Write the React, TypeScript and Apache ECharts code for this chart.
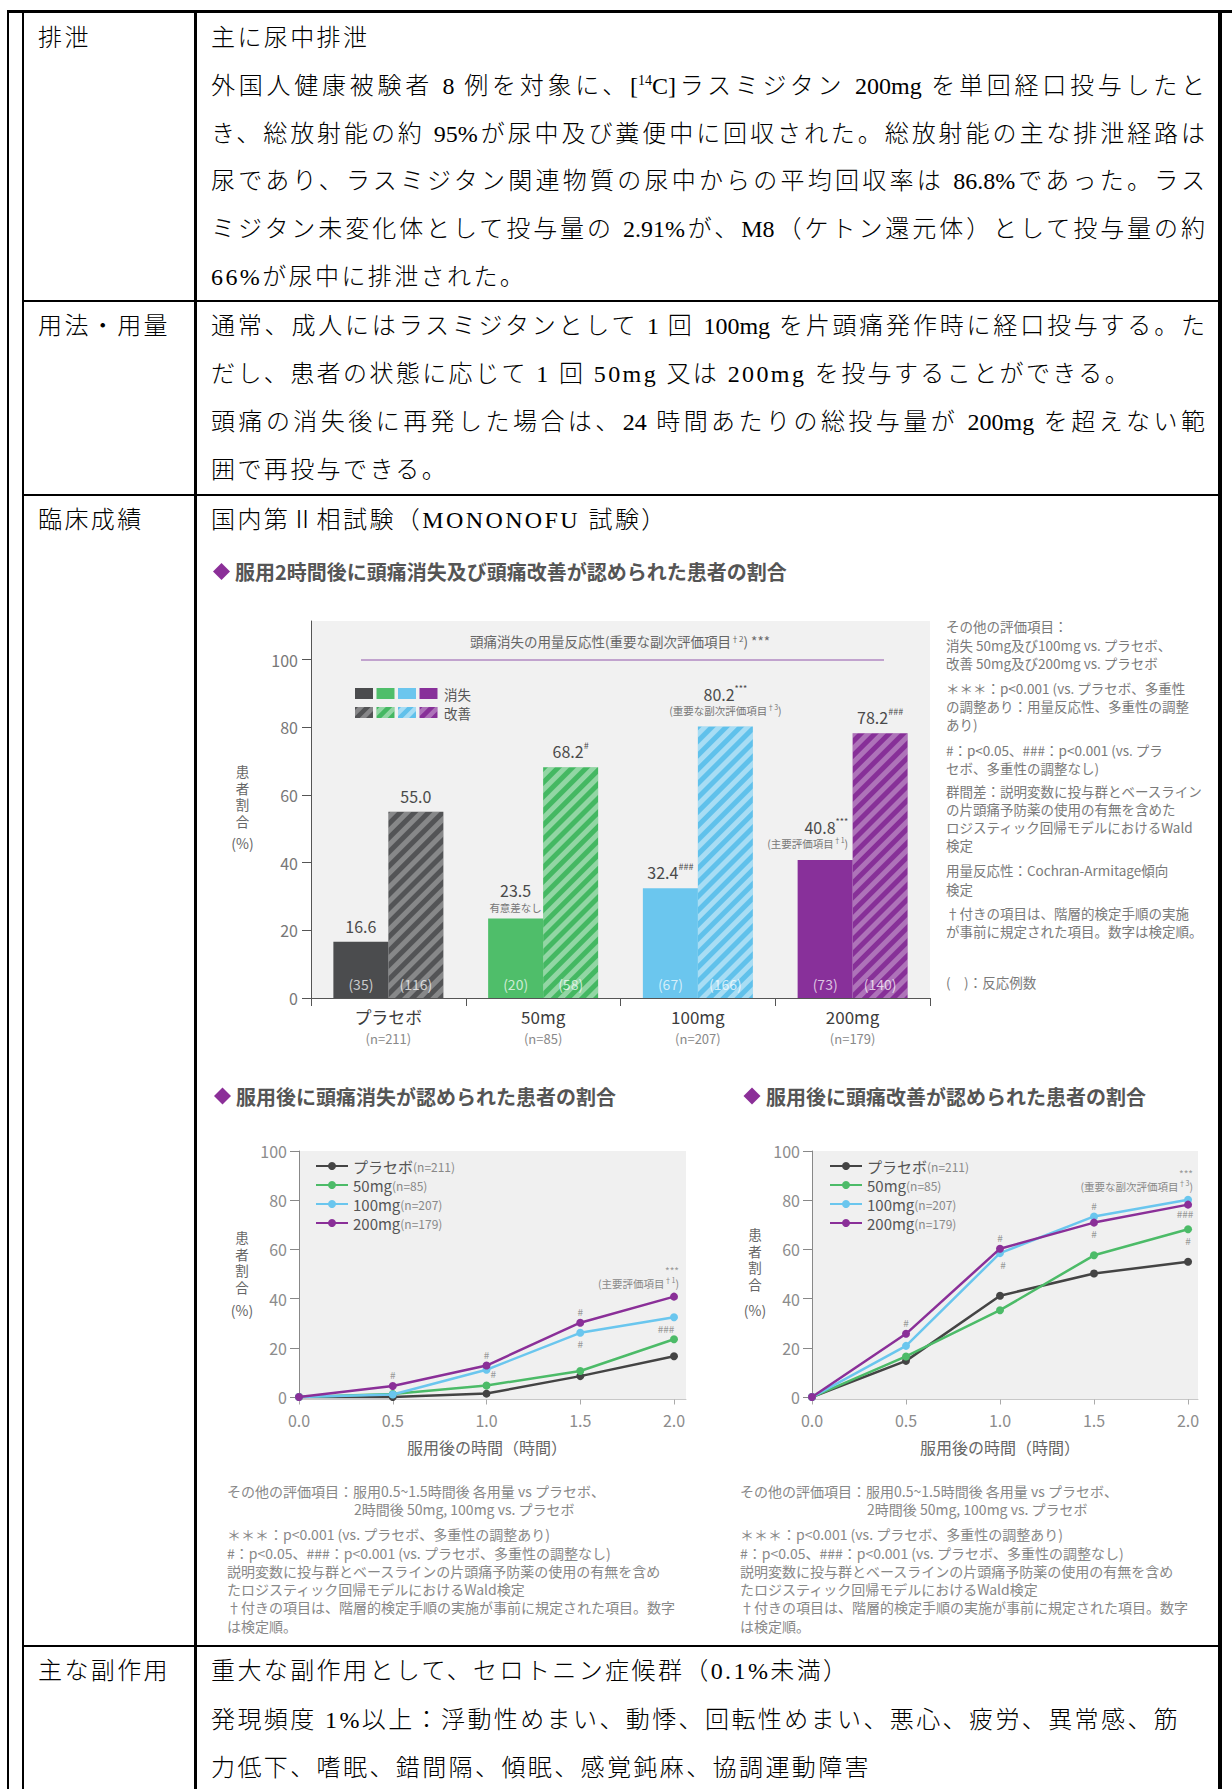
import React, { useEffect, useRef } from 'react';
import * as echarts from 'echarts';

// ---------------- data ----------------
const barCategories = ['プラセボ', '50mg', '100mg', '200mg'];
const barGroupN = ['(n=211)', '(n=85)', '(n=207)', '(n=179)'];
const freedom2h = [16.6, 23.5, 32.4, 40.8];
const relief2h = [55.0, 68.2, 80.2, 78.2];
const freedom2hCount = [35, 20, 67, 73];
const relief2hCount = [116, 58, 166, 140];
const freedom2hSig = ['', '', '###', '***'];
const relief2hSig = ['', '#', '***', '###'];
const freedom2hNote = ['', '有意差なし', '', '(主要評価項目'];
const freedom2hNoteSup = ['', '', '', '†1'];
const relief2hNote = ['', '', '(重要な副次評価項目', ''];
const relief2hNoteSup = ['', '', '†3', ''];
const pctTicks = [0, 20, 40, 60, 80, 100];
const hourTicks = [0, 0.5, 1.0, 1.5, 2.0];
const timePoints = [0, 0.5, 1.0, 1.5, 2.0];
const doseGroups = ['プラセボ', '50mg', '100mg', '200mg'];
const doseN = ['(n=211)', '(n=85)', '(n=207)', '(n=179)'];
const freedomPlacebo = [0, 0, 1.4, 8.5, 16.6];
const freedom50 = [0, 1.2, 4.7, 10.6, 23.5];
const freedom100 = [0, 1.0, 11.1, 26.1, 32.4];
const freedom200 = [0, 4.5, 12.8, 30.2, 40.8];
const reliefPlacebo = [0, 14.7, 41.2, 50.2, 55.0];
const relief50 = [0, 16.5, 35.3, 57.6, 68.2];
const relief100 = [0, 20.8, 58.5, 73.4, 80.2];
const relief200 = [0, 25.7, 60.3, 70.9, 78.2];

// significance marks on line charts: series index, point index, text
const freedomMarks = [
  { s: 3, i: 1, t: '#', pos: 'top' },
  { s: 3, i: 2, t: '#', pos: 'top' },
  { s: 2, i: 2, t: '#', pos: 'right', off: [0, 4], dist: 0 },
  { s: 3, i: 3, t: '#', pos: 'top' },
  { s: 2, i: 3, t: '#', pos: 'bottom' },
  { s: 1, i: 4, t: '###', pos: 'top', off: [-8, 0] },
  { s: 3, i: 4, t: '{mk|***}\n{nt|(主要評価項目}{ns|†1}{nt|)}', pos: 'top', align: 'right', off: [5, 0] },
];
const reliefMarks = [
  { s: 3, i: 1, t: '#', pos: 'top' },
  { s: 3, i: 2, t: '#', pos: 'top' },
  { s: 2, i: 2, t: '#', pos: 'bottom', off: [3, 0] },
  { s: 2, i: 3, t: '#', pos: 'top' },
  { s: 3, i: 3, t: '#', pos: 'bottom' },
  { s: 2, i: 4, t: '{mk|***}\n{nt|(重要な副次評価項目}{ns|†3}{nt|)}', pos: 'top', align: 'right', off: [5, 0] },
  { s: 3, i: 4, t: '###', pos: 'bottom', off: [-3, 0], dist: 0 },
  { s: 1, i: 4, t: '#', pos: 'bottom' },
];

// ---------------- styles ----------------
const FONT = "'Noto Sans CJK JP', 'Noto Sans', sans-serif";
const SERIF = "'Liberation Serif', 'Noto Sans CJK JP', serif";
const solidColors = ['#4b4c4e', '#4fbe6a', '#6bc6ee', '#88309a'];
const hatchColors = ['#535456', '#44b862', '#60c1eb', '#873098'];
const stripeColors = ['rgba(255,255,255,0.3)', 'rgba(255,255,255,0.42)', 'rgba(255,255,255,0.45)', 'rgba(255,255,255,0.32)'];
const lineColors = ['#444444', '#4cbb68', '#6ac6ee', '#8a2f98'];

function clip(poly: number[][], f: (p: number[]) => number) {
  const out: number[][] = [];
  const n = poly.length;
  for (let i = 0; i < n; i++) {
    const cur = poly[i];
    const prev = poly[(i + n - 1) % n];
    const fc = f(cur);
    const fp = f(prev);
    const inter = () => {
      const t = fp / (fp - fc);
      return [prev[0] + t * (cur[0] - prev[0]), prev[1] + t * (cur[1] - prev[1])];
    };
    if (fc >= 0) {
      if (fp < 0) out.push(inter());
      out.push(cur);
    } else if (fp >= 0) {
      out.push(inter());
    }
  }
  return out;
}

function hatchSquare(x: number, y: number, w: number, h: number, base: string, stripe: string) {
  const out: any[] = [{ type: 'rect', silent: true, shape: { x, y, width: w, height: h }, style: { fill: base } }];
  const P = 12.7;
  const rect = [[x, y], [x + w, y], [x + w, y + h], [x, y + h]];
  for (let k = -1; k * P < w + h; k++) {
    const a = k * P + 3;
    const b = a + P / 2;
    let poly = clip(rect, (p) => (p[0] - x) + (p[1] - y) - a);
    poly = clip(poly, (p) => b - ((p[0] - x) + (p[1] - y)));
    if (poly.length >= 3) out.push({ type: 'polygon', silent: true, shape: { points: poly }, style: { fill: stripe } });
  }
  return out;
}

function buildOption() {
  const G: any[] = [];
  const T = (x: number, y: number, text: string, o: any = {}) =>
    G.push({
      type: 'text', x, y, silent: true, z: 10,
      style: {
        text, fill: o.fill || '#777', fontSize: o.size || 14, fontFamily: FONT,
        fontWeight: o.weight || 'normal', align: o.align || 'left', verticalAlign: o.va || 'middle',
        lineHeight: o.lh, rich: o.rich,
      },
    });
  const diamond = (cx: number, cy: number, r: number) =>
    G.push({ type: 'polygon', silent: true, shape: { points: [[cx, cy - r], [cx + r, cy], [cx, cy + r], [cx - r, cy]] }, style: { fill: '#8b2f98' } });
  const vName = (x: number, y0: number, pctY: number) => {
    ['患', '者', '割', '合'].forEach((c, k) => T(x, y0 + k * 16.6, c, { size: 13.5, fill: '#666', align: 'center' }));
    T(x, pctY, '(%)', { size: 14, fill: '#666', align: 'center' });
  };

  // titles
  diamond(221.5, 571.5, 8.5);
  T(235, 571.5, '服用2時間後に頭痛消失及び頭痛改善が認められた患者の割合', { size: 20, weight: 'bold', fill: '#555' });
  diamond(222.5, 1096, 8.5);
  T(236, 1096, '服用後に頭痛消失が認められた患者の割合', { size: 20, weight: 'bold', fill: '#555' });
  diamond(752, 1096, 8.5);
  T(766, 1096, '服用後に頭痛改善が認められた患者の割合', { size: 20, weight: 'bold', fill: '#555' });

  // bar chart decorations
  G.push({ type: 'line', silent: true, shape: { x1: 361, y1: 660, x2: 884, y2: 660 }, style: { stroke: '#b088c2', lineWidth: 1.5 } });
  T(620, 641, '頭痛消失の用量反応性(重要な副次評価項目{ns|†2}) ***', {
    size: 13.5, fill: '#666', align: 'center',
    rich: { ns: { fontSize: 8, fill: '#666', verticalAlign: 'top', fontFamily: FONT } },
  });
  const sqX = [355, 376.5, 398, 419.5];
  sqX.forEach((x, i) => {
    G.push({ type: 'rect', silent: true, shape: { x, y: 688, width: 18, height: 11 }, style: { fill: solidColors[i] } });
    hatchSquare(x, 707, 18, 11, hatchColors[i], stripeColors[i]).forEach((e) => G.push(e));
  });
  T(444, 693.5, '消失', { size: 13.5, fill: '#555' });
  T(444, 712.5, '改善', { size: 13.5, fill: '#555' });
  vName(242.5, 771, 843);

  const barNotes: [number, string][] = [
    [626, 'その他の評価項目：'],
    [644.5, '消失 50mg及び100mg vs. プラセボ、'],
    [663, '改善 50mg及び200mg vs. プラセボ'],
    [688, '＊＊＊：p<0.001 (vs. プラセボ、多重性'],
    [706, 'の調整あり：用量反応性、多重性の調整'],
    [724, 'あり)'],
    [749.5, '#：p<0.05、###：p<0.001 (vs. プラ'],
    [768, 'セボ、多重性の調整なし)'],
    [790.5, '群間差：説明変数に投与群とベースライン'],
    [809, 'の片頭痛予防薬の使用の有無を含めた'],
    [827, 'ロジスティック回帰モデルにおけるWald'],
    [845, '検定'],
    [870, '用量反応性：Cochran-Armitage傾向'],
    [888.6, '検定'],
    [912.6, '†付きの項目は、階層的検定手順の実施'],
    [931, 'が事前に規定された項目。数字は検定順。'],
    [982, '(　)：反応例数'],
  ];
  barNotes.forEach(([y, t]) => T(946, y, t, { size: 13.5, fill: '#7a7a7a' }));

  // line chart decorations
  vName(242, 1237, 1310);
  vName(755, 1234, 1310);
  T(487, 1447, '服用後の時間（時間）', { size: 16, fill: '#666', align: 'center' });
  T(1000, 1447, '服用後の時間（時間）', { size: 16, fill: '#666', align: 'center' });

  const lineNotes = (x: number, xi: number) => {
    const rows: [number, string, boolean?][] = [
      [1491, 'その他の評価項目：服用0.5~1.5時間後 各用量 vs プラセボ、'],
      [1509, '2時間後 50mg, 100mg vs. プラセボ', true],
      [1534, '＊＊＊：p<0.001 (vs. プラセボ、多重性の調整あり)'],
      [1552.5, '#：p<0.05、###：p<0.001 (vs. プラセボ、多重性の調整なし)'],
      [1571, '説明変数に投与群とベースラインの片頭痛予防薬の使用の有無を含め'],
      [1589, 'たロジスティック回帰モデルにおけるWald検定'],
      [1607, '†付きの項目は、階層的検定手順の実施が事前に規定された項目。数字'],
      [1625.5, 'は検定順。'],
    ];
    rows.forEach(([y, t, ind]) => T(ind ? xi : x, y, t, { size: 14, fill: '#888' }));
  };
  lineNotes(227, 354);
  lineNotes(740, 867);

  // ---- bar series ----
  const barRich: any = {
    num: { fontSize: 16, color: '#4a4a4a', fontFamily: FONT, lineHeight: 20 },
    sig: { fontSize: 9, color: '#4a4a4a', fontFamily: FONT, lineHeight: 20, verticalAlign: 'top' },
    nt: { fontSize: 10.5, color: '#777', fontFamily: FONT, lineHeight: 14 },
    ns: { fontSize: 7, color: '#777', fontFamily: FONT, lineHeight: 14, verticalAlign: 'top' },
    cnt: { fontSize: 14, color: 'rgba(255,255,255,0.72)', fontFamily: FONT },
  };
  const topText = (v: number, sig: string, note: string, sup: string) => {
    let s = `{num|${v.toFixed(1)}}` + (sig ? `{sig|${sig}}` : '');
    if (note) s += `\n{nt|${note}}` + (sup ? `{ns|${sup}}{nt|)}` : '');
    return s;
  };
  const topDist = (note: string, sup: string) => (note ? (sup ? 9 : 4) : 6);

  const series: any[] = [
    {
      type: 'bar', name: '消失', xAxisIndex: 0, yAxisIndex: 0, barWidth: 55, barGap: '0%', z: 4,
      data: freedom2h.map((v, i) => {
        const rightAligned = i === 3;
        return {
          value: v, itemStyle: { color: solidColors[i] },
          label: {
            show: true, position: 'top', distance: topDist(freedom2hNote[i], freedom2hNoteSup[i]),
            align: rightAligned ? 'right' : 'center', offset: rightAligned ? [23, 0] : [0, 0],
            formatter: topText(v, freedom2hSig[i], freedom2hNote[i], freedom2hNoteSup[i]), rich: barRich,
          },
        };
      }),
    },
    {
      type: 'bar', name: '改善', xAxisIndex: 0, yAxisIndex: 0, barWidth: 55, barGap: '0%', z: 3,
      data: relief2h.map((v, i) => ({
        value: v,
        itemStyle: {
          color: hatchColors[i],
          decal: { symbol: 'rect', symbolSize: 1, dashArrayX: [1, 0], dashArrayY: [4.5, 4.5], rotation: -Math.PI / 4, color: stripeColors[i] },
        },
        label: {
          show: true, position: 'top', distance: topDist(relief2hNote[i], relief2hNoteSup[i]),
          formatter: topText(v, relief2hSig[i], relief2hNote[i], relief2hNoteSup[i]), rich: barRich,
        },
      })),
    },
    {
      type: 'bar', name: '消失例数', xAxisIndex: 3, yAxisIndex: 0, barWidth: 55, barGap: '0%', silent: true, z: 5,
      itemStyle: { color: 'rgba(0,0,0,0)' }, data: freedom2h,
      label: { show: true, position: 'insideBottom', distance: 7, formatter: (p: any) => `{cnt|(${freedom2hCount[p.dataIndex]})}`, rich: barRich },
    },
    {
      type: 'bar', name: '改善例数', xAxisIndex: 3, yAxisIndex: 0, barWidth: 55, barGap: '0%', silent: true, z: 5,
      itemStyle: { color: 'rgba(0,0,0,0)' }, data: relief2h,
      label: { show: true, position: 'insideBottom', distance: 7, formatter: (p: any) => `{cnt|(${relief2hCount[p.dataIndex]})}`, rich: barRich },
    },
  ];

  const annRich: any = {
    mk: { fontSize: 10, color: '#999', fontFamily: FONT, lineHeight: 12 },
    nt: { fontSize: 10.5, color: '#888', fontFamily: FONT, lineHeight: 14 },
    ns: { fontSize: 7, color: '#888', fontFamily: FONT, lineHeight: 14, verticalAlign: 'top' },
  };
  const lineSeries = (name: string, values: number[], si: number, axis: number, marks: any[]) => ({
    type: 'line', name, xAxisIndex: axis, yAxisIndex: axis, symbol: 'circle', symbolSize: 8,
    lineStyle: { width: 2.5, color: lineColors[si] }, itemStyle: { color: lineColors[si] }, z: 3 + si,
    data: values.map((v, i) => {
      const m = marks.find((mm) => mm.s === si && mm.i === i);
      const item: any = { value: [timePoints[i], v] };
      if (m) {
        item.label = {
          show: true, position: m.pos, distance: m.dist ?? 2, offset: m.off || [0, 0],
          align: m.align, formatter: m.t, fontSize: 10, color: '#999', fontFamily: FONT, rich: annRich,
        };
      }
      return item;
    }),
  });
  const fGroups = [freedomPlacebo, freedom50, freedom100, freedom200];
  const rGroups = [reliefPlacebo, relief50, relief100, relief200];
  fGroups.forEach((vals, si) => series.push(lineSeries(doseGroups[si], vals, si, 1, freedomMarks)));
  rGroups.forEach((vals, si) => series.push(lineSeries(doseGroups[si], vals, si, 2, reliefMarks)));

  const legendBase = (left: number) => ({
    data: doseGroups, orient: 'vertical', left, top: 1158.5, padding: 0, itemWidth: 32, itemHeight: 10, itemGap: 4,
    selectedMode: false,
    formatter: (name: string) => `{nm|${name}}{nn|${doseN[doseGroups.indexOf(name)]}}`,
    textStyle: {
      rich: {
        nm: { fontSize: 15, color: '#555', fontFamily: FONT },
        nn: { fontSize: 12, color: '#888', fontFamily: FONT },
      },
    },
  });

  const lineY = (gi: number) => ({
    type: 'value', gridIndex: gi, min: -1, max: 100,
    axisLine: { show: true, lineStyle: { color: '#888' } },
    axisTick: { show: true, length: 9, customValues: pctTicks, lineStyle: { color: '#888' } },
    axisLabel: { customValues: pctTicks, margin: 12, fontSize: 16, color: '#8c8c8c', fontFamily: FONT },
    splitLine: { show: false },
  });
  const lineX = (gi: number, max: number) => ({
    type: 'value', gridIndex: gi, min: 0, max,
    axisLine: { show: true, onZero: false, lineStyle: { color: '#c8c8c8' } },
    axisTick: { show: true, length: 5, customValues: hourTicks, lineStyle: { color: '#aaa' } },
    axisLabel: { customValues: hourTicks, margin: 12, fontSize: 16, color: '#8c8c8c', fontFamily: FONT, formatter: (v: number) => v.toFixed(1) },
    splitLine: { show: false },
  });

  return {
    animation: false,
    textStyle: { fontFamily: FONT },
    grid: [
      { left: 311, top: 621, width: 619, height: 377, show: true, backgroundColor: '#f1f1f1', borderWidth: 0 },
      { left: 299, top: 1151, width: 387, height: 248.5, show: true, backgroundColor: '#f0f0f0', borderWidth: 0 },
      { left: 812, top: 1151, width: 386, height: 248.5, show: true, backgroundColor: '#f0f0f0', borderWidth: 0 },
    ],
    xAxis: [
      {
        type: 'category', gridIndex: 0, data: barCategories,
        axisLine: { show: true, lineStyle: { color: '#555' } },
        axisTick: { show: true, length: 8, lineStyle: { color: '#555' } },
        axisLabel: {
          margin: 7,
          formatter: (v: string, i: number) => `{cat|${v}}\n{grp|${barGroupN[i]}}`,
          rich: {
            cat: { fontSize: 17, color: '#3c3c3c', fontFamily: FONT, lineHeight: 22 },
            grp: { fontSize: 13, color: '#888', fontFamily: FONT, lineHeight: 22 },
          },
        },
      },
      lineX(1, 2.064),
      lineX(2, 2.053),
      { type: 'category', gridIndex: 0, data: barCategories, show: false },
    ],
    yAxis: [
      {
        type: 'value', gridIndex: 0, min: 0, max: 111.4,
        axisLine: { show: true, lineStyle: { color: '#555' } },
        axisTick: { show: true, length: 9, customValues: pctTicks, lineStyle: { color: '#555' } },
        axisLabel: { customValues: pctTicks, margin: 13, fontSize: 16, color: '#777', fontFamily: FONT },
        splitLine: { show: false },
      },
      lineY(1),
      lineY(2),
    ],
    legend: [legendBase(315), legendBase(829)],
    series,
    graphic: G,
  };
}

function L(props: { x: number; y: number; w?: number; j?: boolean; children: React.ReactNode }) {
  const { x, y, w, j, children } = props;
  return (
    <div
      style={{
        position: 'absolute', left: x, top: y - 16, width: w ?? 1000, height: 32, lineHeight: '32px',
        fontFamily: SERIF, fontSize: 24, fontWeight: 300, color: '#000', letterSpacing: j ? 0 : 2.4,
        textAlign: j ? 'justify' : 'left', textAlignLast: j ? 'justify' : 'left',
        whiteSpace: j ? 'normal' : 'nowrap',
      } as any}
    >
      {children}
    </div>
  );
}

const box = (left: number, top: number, width: number, height: number) => (
  <div style={{ position: 'absolute', left, top, width, height, background: '#000' }} />
);

export default function App() {
  const ref = useRef<HTMLDivElement>(null);
  useEffect(() => {
    const chart = echarts.init(ref.current!, null, { renderer: 'svg' });
    chart.setOption(buildOption() as any);
    return () => chart.dispose();
  }, []);
  const JW = 994;
  const sup = <span style={{ fontSize: 14, position: 'relative', top: -9 }}>14</span>;
  return (
    <div style={{ position: 'absolute', left: 0, top: 0, width: 1232, height: 1789, background: '#fff', overflow: 'hidden' }}>
      {box(7, 9.5, 1225, 3)}
      {box(7, 9.5, 2, 1780)}
      {box(21.5, 9.5, 2.2, 1780)}
      {box(194.3, 9.5, 2.4, 1780)}
      {box(1218, 9.5, 3.5, 1780)}
      {box(21.5, 299.5, 1199, 2.6)}
      {box(21.5, 493.8, 1199, 2.6)}
      {box(21.5, 1644.8, 1199, 2.6)}

      <L x={38} y={37.6}>排泄</L>
      <L x={38} y={326.2}>用法・用量</L>
      <L x={38} y={520}>臨床成績</L>
      <L x={38} y={1671}>主な副作用</L>

      <L x={211} y={37.6}>主に尿中排泄</L>
      <L x={211} y={85.6} w={JW} j>外国人健康被験者 8 例を対象に、[{sup}C]ラスミジタン 200mg を単回経口投与したと</L>
      <L x={211} y={133.5} w={JW} j>き、総放射能の約 95%が尿中及び糞便中に回収された。総放射能の主な排泄経路は</L>
      <L x={211} y={181.4} w={JW} j>尿であり、ラスミジタン関連物質の尿中からの平均回収率は 86.8%であった。ラス</L>
      <L x={211} y={229.3} w={JW} j>ミジタン未変化体として投与量の 2.91%が、M8（ケトン還元体）として投与量の約</L>
      <L x={211} y={277.2}>66%が尿中に排泄された。</L>

      <L x={211} y={326.2} w={JW} j>通常、成人にはラスミジタンとして 1 回 100mg を片頭痛発作時に経口投与する。た</L>
      <L x={211} y={374.2}>だし、患者の状態に応じて 1 回 50mg 又は 200mg を投与することができる。</L>
      <L x={211} y={422} w={JW} j>頭痛の消失後に再発した場合は、24 時間あたりの総投与量が 200mg を超えない範</L>
      <L x={211} y={470}>囲で再投与できる。</L>

      <L x={211} y={520}>国内第Ⅱ相試験（MONONOFU 試験）</L>

      <L x={211} y={1671}>重大な副作用として、セロトニン症候群（0.1%未満）</L>
      <L x={211} y={1720}>発現頻度 1%以上：浮動性めまい、動悸、回転性めまい、悪心、疲労、異常感、筋</L>
      <L x={211} y={1768}>力低下、嗜眠、錯間隔、傾眠、感覚鈍麻、協調運動障害</L>

      <div ref={ref} style={{ position: 'absolute', left: 0, top: 0, width: 1232, height: 1789 }} />
    </div>
  );
}
